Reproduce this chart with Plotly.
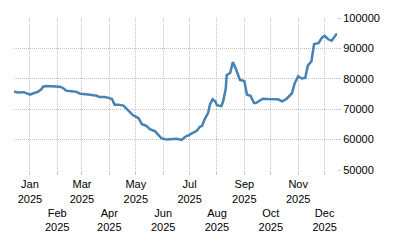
import plotly.graph_objects as go

dates = [
    "2024-12-14", "2024-12-18", "2024-12-25", "2024-12-29", "2025-01-01", "2025-01-05",
    "2025-01-10", "2025-01-14", "2025-01-16", "2025-01-20", "2025-01-27", "2025-02-04",
    "2025-02-08", "2025-02-11", "2025-02-17", "2025-02-23", "2025-02-27", "2025-03-05",
    "2025-03-08", "2025-03-14", "2025-03-17", "2025-03-21", "2025-03-27", "2025-04-01",
    "2025-04-04", "2025-04-07", "2025-04-11", "2025-04-17", "2025-04-22", "2025-04-28",
    "2025-05-04", "2025-05-08", "2025-05-13", "2025-05-17", "2025-05-23", "2025-05-26",
    "2025-05-30", "2025-06-05", "2025-06-11", "2025-06-16", "2025-06-22", "2025-06-26",
    "2025-06-29", "2025-07-05", "2025-07-09", "2025-07-13", "2025-07-15", "2025-07-18",
    "2025-07-22", "2025-07-24", "2025-07-27", "2025-07-30", "2025-08-01", "2025-08-06",
    "2025-08-08", "2025-08-11", "2025-08-12", "2025-08-16", "2025-08-19", "2025-08-23",
    "2025-08-27", "2025-09-01", "2025-09-04", "2025-09-08", "2025-09-12", "2025-09-14",
    "2025-09-19", "2025-09-22", "2025-09-28", "2025-10-04", "2025-10-09", "2025-10-14",
    "2025-10-19", "2025-10-25", "2025-10-28", "2025-11-01", "2025-11-05", "2025-11-09",
    "2025-11-12", "2025-11-16", "2025-11-19", "2025-11-24", "2025-11-28", "2025-12-01",
    "2025-12-05", "2025-12-09", "2025-12-13", "2025-12-15",
]
values = [
    75800, 75500, 75600, 75050, 74750, 75250,
    75700, 76550, 77400, 77600, 77600, 77400,
    76900, 76100, 75900, 75700, 75050, 74750,
    74850, 74600, 74500, 74000, 74000, 73650,
    73350, 71500, 71500, 71200, 69700, 68000,
    67100, 65050, 64500, 63450, 62700, 61850,
    60450, 60000, 60200, 60300, 59900, 60950,
    61300, 62350, 62900, 64300, 64500, 66650,
    68800, 71500, 73300, 72600, 71300, 71000,
    72600, 76900, 81200, 82000, 85500, 82800,
    79600, 79250, 74750, 74400, 72050, 72050,
    73100, 73450, 73350, 73350, 73250, 72600,
    73450, 75250, 78500, 80850, 80100, 80300,
    84400, 85700, 91400, 91700, 93550, 94100,
    93000, 92500, 94300, 94950,
]

month_ticks = [
    "2025-01-01", "2025-02-01", "2025-03-01", "2025-04-01", "2025-05-01", "2025-06-01",
    "2025-07-01", "2025-08-01", "2025-09-01", "2025-10-01", "2025-11-01", "2025-12-01",
]
month_names = ["Jan", "Feb", "Mar", "Apr", "May", "Jun", "Jul", "Aug", "Sep", "Oct", "Nov", "Dec"]
tick_year = "2025"
y_ticks = [50000, 60000, 70000, 80000, 90000, 100000]

tick_text = []
for i, m in enumerate(month_names):
    if i % 2 == 0:
        tick_text.append(f"{m}<br>{tick_year}")
    else:
        tick_text.append(f"&nbsp;<br>&nbsp;<br>{m}<br>{tick_year}")

font = dict(family="Liberation Sans, Arial, sans-serif", size=11, color="#000000")

fig = go.Figure()
fig.add_trace(go.Scatter(
    x=dates, y=values, mode="lines",
    line=dict(color="#4682b4", width=2.5),
    hoverinfo="skip",
))

fig.update_layout(
    width=400, height=250,
    margin=dict(l=14, r=63, t=15, b=80),
    paper_bgcolor="white", plot_bgcolor="white",
    showlegend=False,
    font=font,
)
fig.update_xaxes(
    range=[dates[0], dates[-1]],
    tickvals=month_ticks, ticktext=tick_text, tickangle=0,
    showgrid=True, gridcolor="#c0c0c0", griddash="1px,1px", gridwidth=1,
    ticks="outside", ticklen=4, tickcolor="#c8c8c8",
    showline=False, zeroline=False,
    tickfont=font,
)
fig.update_yaxes(
    range=[50000, 100000], side="right",
    tickvals=y_ticks, ticktext=[str(v) for v in y_ticks],
    showgrid=True, gridcolor="#c0c0c0", griddash="1px,1px", gridwidth=1,
    ticks="outside", ticklen=3, tickcolor="#c8c8c8",
    showline=False, zeroline=False,
    tickfont=font,
)

fig.write_html("out.html")
